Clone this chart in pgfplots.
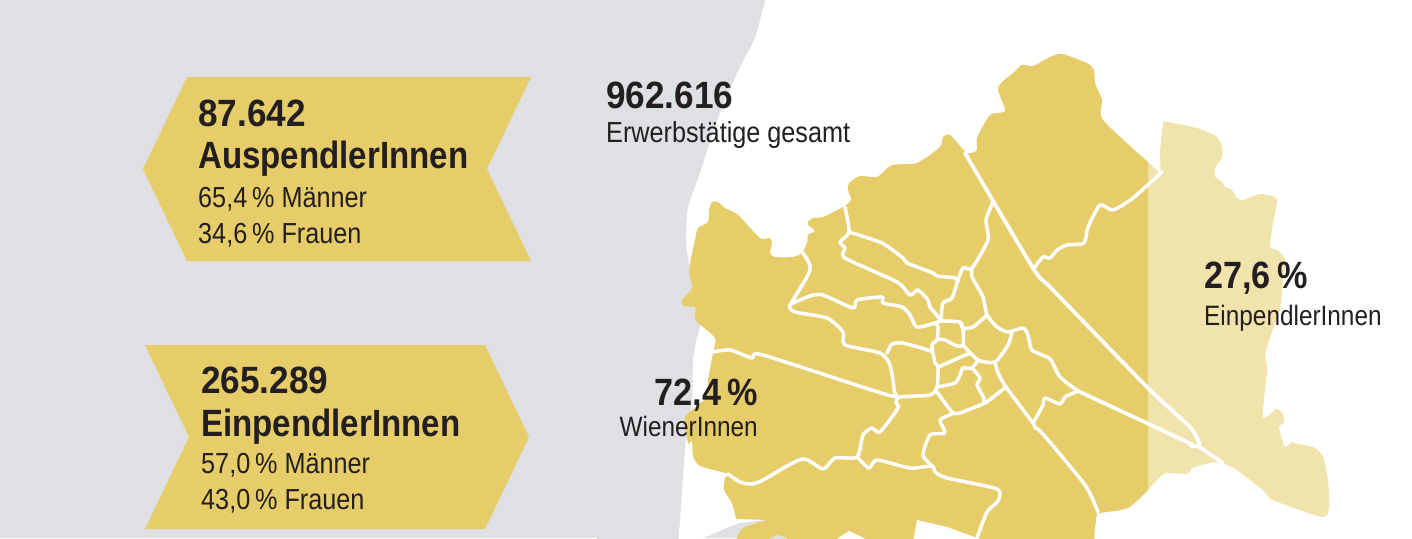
\documentclass[border=0pt]{standalone}
\usepackage{fontspec}
\setmainfont{Liberation Sans}
\newfontfamily\narrow[FakeStretch=0.87]{Liberation Sans}
\newfontfamily\numbers[FakeStretch=0.925]{Liberation Sans}
\newfontfamily\shares[FakeStretch=0.9]{Liberation Sans}
\usepackage{pgfplots}
\pgfplotsset{compat=1.18}
\definecolor{gold}{HTML}{E6CD69}
\definecolor{lightgold}{HTML}{F1E3AC}
\definecolor{paper}{HTML}{DEE0E4}
\definecolor{ink}{HTML}{231F20}
\newcommand{\headfont}{\narrow\bfseries\fontsize{38}{38}\selectfont}
\newcommand{\numfont}{\numbers\bfseries\fontsize{38}{38}\selectfont}
\newcommand{\sharefont}{\shares\bfseries\fontsize{38}{38}\selectfont}
\newcommand{\bodyfont}{\narrow\fontsize{29}{29}\selectfont}
\newcommand{\wordfont}{\narrow\fontsize{28}{28}\selectfont}
\tikzset{
  area/.style={draw=none,fill=#1,smooth,tension=0.4},
  border/.style={draw=white,line width=3.5pt,line join=round,line cap=round,smooth,tension=0.4},
  txt/.style={anchor=base west,inner sep=0pt,text=ink},
}

\begin{document}
\begin{tikzpicture}
\begin{axis}[
  hide axis,scale only axis,
  width=1412pt,height=538pt,
  xmin=0,xmax=1412,ymin=0,ymax=538,
  y dir=reverse,no markers]

% background
\addplot[draw=none,fill=white] coordinates {(0,0) (1412,0) (1412,538) (0,538)};
\addplot[draw=none,fill=paper] coordinates {(0,0) (640,0) (640,538) (0,538)};
\addplot[area=paper] coordinates {
  (768,-10) (760,20) (754,40) (740,67) (723,105) (712,135) (700,173) (688,207)
  (686,240) (689,265) (694,300) (700,323) (696,342) (693,360) (692,400) (686,438)
  (682,490) (678,548) (670,640) (600,640) (600,-100)};
\addplot[draw=none,fill=paper] coordinates {
  (703,538) (727,528) (740,523) (765,520) (745,538)};

% arrows
\addplot[draw=none,fill=gold] coordinates {
  (187,77) (531,77) (487,169) (531,261) (187,261) (143,169)};
\addplot[draw=none,fill=gold] coordinates {
  (145,345) (485,345) (529,437) (485,529) (145,529) (189,437)};

% map, east part
\addplot[area=lightgold] coordinates {
  (1148,162) (1160,172) (1160,153) (1163,123) (1167,122) (1197,128) (1217,137)
  (1222,147) (1222,157) (1215,168) (1215,177) (1222,182) (1225,187) (1232,190)
  (1237,198) (1243,200) (1260,194) (1275,197) (1277,203) (1273,223) (1270,247)
  (1277,250) (1285,260) (1282,290) (1280,310) (1275,323) (1267,347) (1265,357)
  (1267,370) (1263,417) (1277,409) (1283,415) (1284,422) (1279,428) (1285,447)
  (1292,442) (1298,444) (1313,447) (1323,456) (1328,480) (1329,507) (1322,517)
  (1273,500) (1265,492) (1237,470) (1218,462) (1198,466) (1192,468) (1187,474)
  (1167,473) (1160,477) (1148,490)};

% map, gold part
\addplot[area=gold] coordinates {
  (1148,490) (1128,508) (1100,513) (1097,514) (1094,538) (1094,560) (737,560)
  (737,538) (743,528) (760,522) (765,520) (737,519) (736,518) (732,503)
  (724,490) (725,478) (728,474) (700,466) (693,456) (692,441) (688,443) (685,417)
  (707,397) (708,380) (713,353) (715,338) (697,322) (695,315) (695,307) (683,306)
  (682,300) (692,288) (689,270) (695,240) (698,228) (708,222) (709,210) (712,202)
  (718,202) (725,208) (738,215) (760,238) (770,238) (772,243) (770,253) (775,257)
  (793,257) (802,253) (807,243) (808,235) (815,231) (808,225) (808,222) (813,218)
  (823,217) (843,207) (851,200) (848,190) (849,183) (860,176) (877,177) (892,165)
  (917,163) (940,147) (943,137) (950,135) (967,153) (977,150) (977,138) (990,115)
  (1005,111) (998,90) (1002,82) (1013,73) (1022,65) (1033,66) (1050,57) (1062,54)
  (1087,63) (1094,70) (1095,83) (1102,100) (1103,120) (1148,162)};

% cut-outs along the bottom edge
\addplot[draw=none,fill=white] coordinates {
  (917,520) (947,527) (977,538) (977,548) (912,548)};
\addplot[draw=none,fill=white] coordinates {
  (838,538) (849,531) (864,538) (864,548) (838,548)};
\addplot[draw=none,fill=paper] coordinates {
  (770,538) (778,535) (787,538) (787,548) (770,548)};

% Danube
\addplot[border,line width=3.8pt] coordinates {
  (965,153) (1033,268) (1053,290) (1148,388) (1190,427) (1199,443) (1198,446) (1191,446) (1187,442) (1078,391)};
\addplot[border,line width=3.8pt] coordinates {(1198,446) (1223,463)};
\addplot[border] coordinates {
  (1162,172) (1133,198) (1113,210) (1100,205) (1088,227) (1084,243) (1067,245)
  (1057,250) (1050,258) (1043,257) (1034,268)};
\addplot[border] coordinates {
  (993,202) (986,220) (988,240) (972,268) (963,268) (958,280) (952,298) (943,303) (941,320)};
\addplot[border] coordinates {
  (972,268) (972,277) (983,297) (987,315) (997,327) (1008,332) (1023,328) (1028,335)
  (1032,350) (1050,359) (1060,377) (1078,391)};
\addplot[border] coordinates {
  (987,315) (973,327) (963,328) (960,322) (941,321) (935,323) (917,327) (910,315)
  (902,307) (883,303) (882,297) (857,300) (853,308) (823,295) (810,296) (790,305)
  (795,312) (827,318) (843,332) (845,345) (880,353) (890,365) (894,390) (888,395)
  (763,355) (752,358) (730,350) (713,352)};
\addplot[border] coordinates {(803,253) (810,265) (808,275) (790,305)};
\addplot[border] coordinates {
  (845,207) (849,232) (840,242) (845,248) (845,258) (897,282) (910,295) (918,290)
  (928,300) (930,307) (940,319)};
\addplot[border] coordinates {
  (849,232) (882,243) (903,258) (907,263) (933,273) (937,276) (955,278) (958,282)};

% inner districts
\addplot[border] coordinates {
  (935,323) (938,327) (937,340) (932,345) (935,363) (938,367) (937,387) (930,395)
  (900,397) (896,403) (898,408) (880,432) (872,428) (863,435) (857,457) (835,458)
  (823,469) (802,459) (763,480) (752,484) (740,482) (728,474)};
\addplot[border] coordinates {
  (960,322) (963,330) (963,345) (957,346) (945,340) (937,339)};
\addplot[border] coordinates {(963,345) (978,360) (995,362) (1008,345) (1012,332)};
\addplot[border] coordinates {
  (995,362) (998,373) (1006,387) (1033,423) (1035,428) (1042,433) (1085,485) (1098,512)};
\addplot[border] coordinates {(938,367) (970,353)};
\addplot[border] coordinates {
  (978,360) (972,368) (963,368) (960,375) (955,383) (937,387)};
\addplot[border] coordinates {
  (972,368) (980,378) (977,385) (984,398) (985,403) (1006,387)};
\addplot[border] coordinates {(985,403) (960,413) (952,412) (937,392)};
\addplot[border] coordinates {
  (857,457) (869,468) (877,460) (910,468) (932,466) (935,472) (947,478) (997,489)
  (998,501) (987,512) (977,538)};
\addplot[border] coordinates {
  (932,466) (923,455) (930,435) (945,433) (940,420) (952,414)};
\addplot[border] coordinates {
  (887,353) (892,344) (903,343) (928,350) (932,352)};
\addplot[border] coordinates {
  (1078,391) (1065,397) (1060,404) (1045,398) (1043,405) (1033,423)};

% text
\node[txt] at (axis cs:198,126) {\numfont 87.642};
\node[txt] at (axis cs:198,168) {\headfont AuspendlerInnen};
\node[txt] at (axis cs:198,207) {\bodyfont 65,4\,\% Männer};
\node[txt] at (axis cs:198,243) {\bodyfont 34,6\,\% Frauen};
\node[txt] at (axis cs:201,393) {\numfont 265.289};
\node[txt] at (axis cs:201,436) {\headfont EinpendlerInnen};
\node[txt] at (axis cs:201,473) {\bodyfont 57,0\,\% Männer};
\node[txt] at (axis cs:201,509) {\bodyfont 43,0\,\% Frauen};
\node[txt] at (axis cs:606,108) {\numfont 962.616};
\node[txt] at (axis cs:606,142) {\bodyfont Erwerbstätige gesamt};
\node[txt] at (axis cs:1204,288) {\sharefont 27,6\,\%};
\node[txt] at (axis cs:1204,325) {\wordfont EinpendlerInnen};
\node[txt,anchor=base east] at (axis cs:758,405) {\sharefont 72,4\,\%};
\node[txt,anchor=base east] at (axis cs:758,436) {\wordfont WienerInnen};
\end{axis}
\end{tikzpicture}
\end{document}
